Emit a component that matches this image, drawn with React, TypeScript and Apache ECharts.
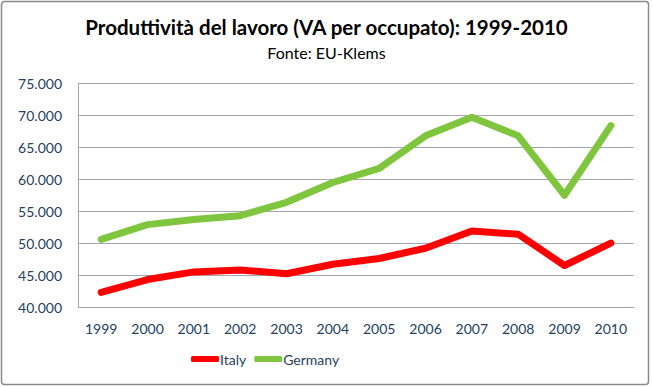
import React, { useEffect, useRef } from "react";
import * as echarts from "echarts";

const years = ["1999", "2000", "2001", "2002", "2003", "2004", "2005", "2006", "2007", "2008", "2009", "2010"];
const italy = [42300, 44300, 45500, 45800, 45200, 46700, 47600, 49200, 51900, 51400, 46500, 50000];
const germany = [50600, 52900, 53700, 54300, 56400, 59500, 61700, 66800, 69700, 66800, 57500, 68400];
const titleText = "Produttività del lavoro (VA per occupato): 1999-2010";
const subtitleText = "Fonte: EU-Klems";

export default function App() {
  const ref = useRef<HTMLDivElement>(null);
  useEffect(() => {
    document.body.style.margin = "0";
    const chart = echarts.init(ref.current!, null, { renderer: "svg" });
    const font = "Lato, 'Open Sans', sans-serif";
    const textColor = "#243F60";
    chart.setOption({
      animation: false,
      backgroundColor: "#ffffff",
      title: {
        text: titleText,
        subtext: subtitleText,
        left: "center",
        top: 11,
        itemGap: 7,
        textStyle: { fontFamily: font, fontSize: 20.5, fontWeight: "bold", color: "#000" },
        subtextStyle: { fontFamily: font, fontSize: 16, color: "#000" },
      },
      graphic: [
        {
          type: "rect",
          shape: { x: 1.5, y: 1.5, width: 647, height: 383, r: 3 },
          style: { fill: "none", stroke: "#8a8a8a", lineWidth: 1.5 },
          z: 100,
        },
      ],
      legend: {
        bottom: 16,
        left: 186,
        icon: "roundRect",
        itemWidth: 28,
        itemHeight: 6,
        itemGap: 8,
        textStyle: { fontFamily: font, fontSize: 14, color: textColor, padding: [0, 0, 0, -4] },
        data: ["Italy", "Germany"],
      },
      grid: { left: 78, right: 19, top: 83.5, bottom: 80 },
      xAxis: {
        type: "category",
        data: years,
        boundaryGap: true,
        axisLine: { lineStyle: { color: "#a6a6ae", width: 1 } },
        axisTick: { show: false },
        axisLabel: { fontFamily: font, fontSize: 14, color: textColor, margin: 14 },
      },
      yAxis: {
        type: "value",
        min: 40000,
        max: 75000,
        interval: 5000,
        axisLine: { show: true, lineStyle: { color: "#a6a6ae", width: 1 } },
        axisTick: { show: false },
        splitLine: { lineStyle: { color: "#a6a6ae", width: 1 } },
        axisLabel: {
          fontFamily: font,
          fontSize: 14,
          color: textColor,
          margin: 16,
          formatter: (v: number) => (v / 1000).toFixed(3),
        },
      },
      series: [
        {
          name: "Italy",
          type: "line",
          data: italy,
          symbol: "none",
          itemStyle: { color: "#ff0000" },
          lineStyle: { color: "#ff0000", width: 7, cap: "round", join: "round" },
        },
        {
          name: "Germany",
          type: "line",
          data: germany,
          symbol: "none",
          itemStyle: { color: "#7fc63e" },
          lineStyle: { color: "#7fc63e", width: 7, cap: "round", join: "round" },
        },
      ],
    });
    return () => chart.dispose();
  }, []);
  return <div ref={ref} style={{ position: "absolute", left: 0, top: 0, width: 653, height: 387 }} />;
}
